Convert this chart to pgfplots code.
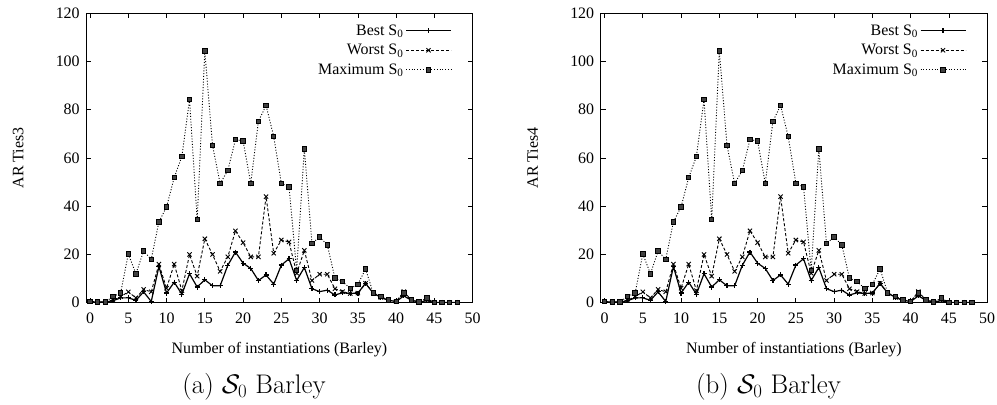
\RequirePackage{fix-cm}
\documentclass[border=0pt]{standalone}
\usepackage{fontspec}
\newfontfamily\tnr{Liberation Serif}
\usepackage{pgfplots}
\pgfplotsset{compat=1.18}
\usepackage{pgfplotstable}

\pgfplotstableread{
x best worst max
0 0.3 0.5 0.6
1 0.3 0.3 0.3
2 0.3 0.3 0.3
3 0.8 1.0 2.6
4 2.0 2.5 4.0
5 2.0 4.5 20.2
6 1.0 2.0 12.0
7 4.5 5.5 21.4
8 0.5 4.5 18.0
9 15.0 16.0 33.5
10 4.0 6.0 39.7
11 8.5 16.0 51.9
12 3.5 5.0 60.6
13 12.0 20.0 84.2
14 6.5 11.0 34.5
15 9.5 26.5 104.4
16 7.0 20.0 65.3
17 7.0 13.0 49.4
18 15.5 19.0 54.8
19 21.0 29.8 67.6
20 16.4 24.9 67.1
21 14.2 19.0 49.4
22 9.2 19.0 75.2
23 11.5 44.0 81.8
24 7.7 20.5 68.9
25 15.6 26.0 49.5
26 18.2 25.2 48.0
27 9.2 12.2 13.4
28 14.6 21.7 63.8
29 5.8 9.2 24.6
30 4.6 11.8 27.2
31 5.2 11.8 24.0
32 3.2 5.8 10.2
33 4.1 4.6 8.7
34 3.8 3.8 5.9
35 4.0 4.0 7.6
36 8.0 8.0 14.0
37 4.0 4.0 4.0
38 2.2 2.2 2.7
39 1.0 1.0 1.1
40 0.5 0.5 0.5
41 2.8 4.6 4.0
42 1.0 1.0 1.2
43 0.3 0.3 0.3
44 0.8 1.6 1.9
45 0.1 0.1 0.1
46 0.1 0.1 0.1
47 0.1 0.1 0.1
48 0.1 0.1 0.1
}\data

\pgfplotsset{
  myax/.style={
    scale only axis, width=386.5bp, height=289.4bp,
    xmin=-0.5, xmax=50, ymin=0, ymax=120,
    xtick={0,5,...,50}, ytick={0,20,...,120},
    tick align=inside, major tick length=5bp,
    axis line style={line width=1bp},
    every tick/.style={line width=0.8bp, black},
    /pgf/number format/assume math mode=true,
    every tick label/.append style={font=\fontsize{16}{18}\selectfont\tnr},
    every axis label/.append style={font=\fontsize{16}{18}\selectfont\tnr},
    xticklabel style={yshift=-7bp},
    yticklabel style={xshift=-3bp},
    xlabel={Number of instantiations (Barley)},
    xlabel style={at={(axis description cs:0.5,-0.163)}, anchor=center},
    ylabel style={at={(axis description cs:-0.176,0.5)}, anchor=center},
    legend style={font=\fontsize{16}{18}\selectfont\tnr, draw=none, fill=none,
      at={(rel axis cs:0.946,0.968)}, anchor=north east,
      legend cell align=right, row sep=3.5bp, inner sep=0pt,
      /tikz/every even column/.append style={column sep=10bp}},
    legend plot pos=right,
    legend image code/.code={\draw[mark repeat=2,mark phase=2,##1] plot coordinates {(0bp,0bp) (22.5bp,0bp) (45bp,0bp)};},
  },
  sbest/.style={black, line width=1.2bp, mark=+, mark size=2.5bp, mark options={solid}},
  sworst/.style={black, line width=0.9bp, dash pattern=on 3bp off 2bp, mark=x, mark size=3bp, mark options={solid}},
  smax/.style={black, line width=0.9bp, dash pattern=on 1bp off 1.8bp, mark=square*, mark size=2.2bp, mark options={solid, fill=black!75}},
}

\begin{document}
\begin{tikzpicture}
\path[use as bounding box] (-86.2bp,-102.3bp) rectangle (910.8bp,302.7bp);
\begin{axis}[myax, at={(0bp,0bp)}, anchor=south west, ylabel={AR Ties3}]
\addplot[sbest] table[x=x,y=best]{\data};
\addlegendentry{Best S\textsubscript{0}}
\addplot[sworst] table[x=x,y=worst]{\data};
\addlegendentry{Worst S\textsubscript{0}}
\addplot[smax] table[x=x,y=max]{\data};
\addlegendentry{Maximum S\textsubscript{0}}
\end{axis}
\begin{axis}[myax, at={(514.5bp,0bp)}, anchor=south west, ylabel={AR Ties4}]
\addplot[sbest] table[x=x,y=best]{\data};
\addlegendentry{Best S\textsubscript{0}}
\addplot[sworst] table[x=x,y=worst]{\data};
\addlegendentry{Worst S\textsubscript{0}}
\addplot[smax] table[x=x,y=max]{\data};
\addlegendentry{Maximum S\textsubscript{0}}
\end{axis}
\node[font=\fontsize{27}{30}\selectfont] at (167.8bp,-84bp) {(a) $\mathcal{S}_0$ Barley};
\node[font=\fontsize{27}{30}\selectfont] at (682.3bp,-84bp) {(b) $\mathcal{S}_0$ Barley};
\end{tikzpicture}
\end{document}
